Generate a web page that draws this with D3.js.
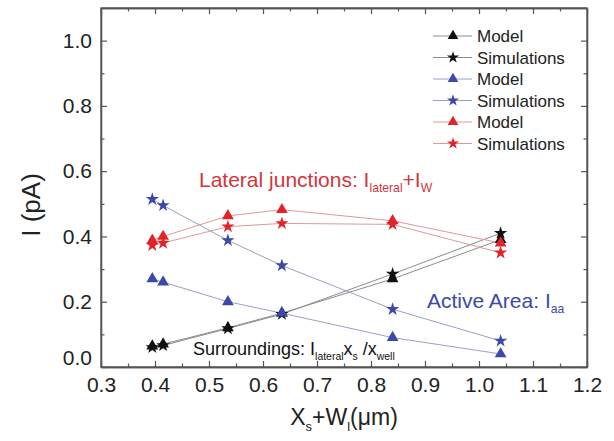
<!DOCTYPE html>
<html><head><meta charset="utf-8">
<script src="https://cdn.jsdelivr.net/npm/d3@7"></script>
<style>
body{margin:0;background:#fff;}
svg{display:block;font-family:"Liberation Sans",Arial,sans-serif;}
</style></head>
<body><svg id="c" width="614" height="441"></svg>
<script>
const xVals = [0.395, 0.415, 0.535, 0.635, 0.84, 1.04];
const blackModel = [0.064, 0.07, 0.12, 0.165, 0.27, 0.39];
const blackSim   = [0.06, 0.066, 0.118, 0.162, 0.285, 0.41];
const blueModel  = [0.27, 0.26, 0.20, 0.165, 0.09, 0.04];
const blueSim    = [0.514, 0.495, 0.388, 0.311, 0.177, 0.08];
const redModel   = [0.388, 0.40, 0.463, 0.482, 0.448, 0.38];
const redSim     = [0.373, 0.38, 0.43, 0.44, 0.437, 0.35];
const xTicks = [0.3,0.4,0.5,0.6,0.7,0.8,0.9,1.0,1.1,1.2];
const yTicks = [0.0,0.2,0.4,0.6,0.8,1.0];
const legendLabels = ["Model","Simulations","Model","Simulations","Model","Simulations"];

const series = [
  {name:"Model", vals:blackModel, color:"#111", line:"#8c8c8c", sym:d3.symbolTriangle},
  {name:"Simulations", vals:blackSim, color:"#111", line:"#8c8c8c", sym:d3.symbolStar},
  {name:"Model", vals:blueModel, color:"#3b4aa8", line:"#9aa0c4", sym:d3.symbolTriangle},
  {name:"Simulations", vals:blueSim, color:"#3b4aa8", line:"#9aa0c4", sym:d3.symbolStar},
  {name:"Model", vals:redModel, color:"#e0242a", line:"#dc9a9a", sym:d3.symbolTriangle},
  {name:"Simulations", vals:redSim, color:"#e0242a", line:"#dc9a9a", sym:d3.symbolStar}
];

const svg = d3.select("#c");
const L=101, R=587, T=8, B=367;
const x = d3.scaleLinear().domain([0.3,1.2]).range([L,R]);
const y = d3.scaleLinear().domain([0,1.1]).range([B,T]);
const axisColor = "#555";
const xMinor = d3.range(0.35,1.2,0.1).map(v=>+v.toFixed(2));
const yMinor = d3.range(0.1,1.1,0.2).map(v=>+v.toFixed(2));

function styleAxis(g){
  g.selectAll("path").attr("stroke",axisColor).attr("stroke-width",1.3);
  g.selectAll("line").attr("stroke",axisColor).attr("stroke-width",1.2);
  g.selectAll("text").attr("fill","#222").style("font-size","21px");
}
// bottom
svg.append("g").attr("transform",`translate(0,${B})`)
  .call(d3.axisBottom(x).tickValues(xTicks).tickFormat(d3.format(".1f")).tickSizeInner(-6).tickSizeOuter(0).tickPadding(10)).call(styleAxis);
svg.append("g").attr("transform",`translate(0,${B})`)
  .call(d3.axisBottom(x).tickValues(xMinor).tickFormat("").tickSizeInner(-3.5).tickSizeOuter(0)).call(styleAxis);
// top
svg.append("g").attr("transform",`translate(0,${T})`)
  .call(d3.axisTop(x).tickValues(xTicks).tickFormat("").tickSizeInner(-6).tickSizeOuter(0)).call(styleAxis);
svg.append("g").attr("transform",`translate(0,${T})`)
  .call(d3.axisTop(x).tickValues(xMinor).tickFormat("").tickSizeInner(-3.5).tickSizeOuter(0)).call(styleAxis);
// left
const yAx = svg.append("g").attr("transform",`translate(${L},0)`)
  .call(d3.axisLeft(y).tickValues(yTicks).tickFormat(d3.format(".1f")).tickSizeInner(-6).tickSizeOuter(0).tickPadding(9)).call(styleAxis);
yAx.selectAll(".tick").filter(d=>d===0).select("text").attr("y",-9);
svg.append("g").attr("transform",`translate(${L},0)`)
  .call(d3.axisLeft(y).tickValues(yMinor).tickFormat("").tickSizeInner(-3.5).tickSizeOuter(0)).call(styleAxis);
// right
svg.append("g").attr("transform",`translate(${R},0)`)
  .call(d3.axisRight(y).tickValues(yTicks).tickFormat("").tickSizeInner(-6).tickSizeOuter(0)).call(styleAxis);
svg.append("g").attr("transform",`translate(${R},0)`)
  .call(d3.axisRight(y).tickValues(yMinor).tickFormat("").tickSizeInner(-3.5).tickSizeOuter(0)).call(styleAxis);
// frame
svg.append("rect").attr("x",L).attr("y",T).attr("width",R-L).attr("height",B-T)
  .attr("fill","none").attr("stroke",axisColor).attr("stroke-width",1.3);

const line = d3.line().x((d,i)=>x(xVals[i])).y(d=>y(d));
series.forEach(s=>{
  svg.append("path").datum(s.vals).attr("d",line).attr("fill","none")
    .attr("stroke",s.line).attr("stroke-width",1);
});
series.forEach(s=>{
  svg.append("g").selectAll("path").data(s.vals).join("path")
    .attr("transform",(d,i)=>`translate(${x(xVals[i])},${y(d)})`)
    .attr("d",d3.symbol().type(s.sym).size(s.sym===d3.symbolStar?55:60))
    .attr("fill",s.color);
});

// legend
const lg = svg.append("g");
series.forEach((s,i)=>{
  const yy = 36 + i*21.5;
  lg.append("line").attr("x1",433).attr("x2",472).attr("y1",yy).attr("y2",yy)
    .attr("stroke",s.line).attr("stroke-width",1);
  lg.append("path").attr("transform",`translate(453,${yy})`)
    .attr("d",d3.symbol().type(s.sym).size(s.sym===d3.symbolStar?45:50)).attr("fill",s.color);
  lg.append("text").attr("x",477).attr("y",yy+6).text(legendLabels[i])
    .style("font-size","17px").attr("fill","#222");
});

// annotations
function rich(parts, xx, yy, color, size){
  const t = svg.append("text").attr("x",xx).attr("y",yy).attr("fill",color).style("font-size",size+"px");
  parts.forEach(p=>{
    const ts = t.append("tspan").text(p[0]);
    if(p[1]==="sub"){ ts.style("font-size",(size*0.58)+"px").attr("dy",5); }
    else if(p[1]==="base"){ ts.attr("dy",-5); }
  });
  return t;
}
rich([["Lateral junctions: I"],["lateral","sub"],["+I","base"],["W","sub"]],199,187,"#d2353a",21);
rich([["Active Area: I"],["aa","sub"]],427,308,"#3b4aa8",21);
rich([["Surroundings: I"],["lateral","sub"],["x","base"],["s","sub"],["\u00a0/x","base"],["well","sub"]],193,355,"#111",18);

// axis titles
svg.append("text").attr("transform","translate(40,205) rotate(-90)").attr("text-anchor","middle")
  .style("font-size","26px").attr("fill","#222").text("I (pA)");
const xt = svg.append("text").attr("x",344).attr("y",425).attr("text-anchor","middle")
  .style("font-size","23px").attr("fill","#222");
xt.append("tspan").text("X");
xt.append("tspan").text("s").style("font-size","13px").attr("dy",6);
xt.append("tspan").text("+W").attr("dy",-6);
xt.append("tspan").text("l").style("font-size","13px").attr("dy",6);
xt.append("tspan").text("(\u03bcm)").attr("dy",-6);
</script></body></html>
